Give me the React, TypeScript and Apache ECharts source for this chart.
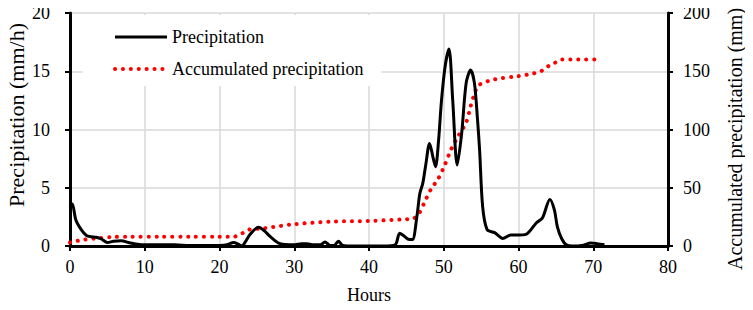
import React, { useEffect, useRef } from "react";
import * as echarts from "echarts";

const precipHours = [0, 0.3, 0.8, 1.5, 2.2, 2.8, 3.5, 4.2, 5, 5.8, 6.8, 8.1, 9, 10, 12, 14, 16, 18, 20, 21, 21.9, 22.5, 23, 23.5, 24.1, 25.2, 26, 26.8, 28.1, 29.9, 31, 31.7, 32.5, 33.5, 34.1, 34.8, 35.3, 35.9, 36.5, 38, 40, 42, 43.5, 44.1, 44.6, 45.2, 45.8, 46.4, 46.8, 47.2, 47.6, 48.1, 48.6, 48.9, 49.3, 49.7, 50.2, 50.7, 51.2, 51.8, 52.4, 53, 53.6, 54.1, 54.5, 54.8, 55.2, 55.8, 56.8, 57.9, 59, 60, 61, 62.4, 63.2, 64.2, 64.8, 65.2, 65.8, 66.4, 67.2, 68.5, 69.7, 70.5, 71.5];
const precipValues = [3.3, 3.6, 2.2, 1.4, 0.9, 0.8, 0.75, 0.6, 0.3, 0.4, 0.45, 0.25, 0.15, 0.1, 0.1, 0.1, 0.05, 0.05, 0.05, 0.1, 0.3, 0.15, 0.0, 0.4, 1.0, 1.6, 1.3, 0.8, 0.2, 0.1, 0.2, 0.2, 0.1, 0.1, 0.35, 0.05, 0.05, 0.4, 0.05, 0, 0, 0, 0.1, 1.1, 0.9, 0.6, 0.55, 2.5, 4.5, 5.4, 7, 8.8, 7.5, 6.8, 9, 12.5, 15.5, 16.9, 12.5, 6.95, 9.7, 14, 15.1, 14, 11, 8.2, 3.4, 1.4, 1.15, 0.65, 0.95, 0.95, 1.0, 2.0, 2.4, 4.0, 3.1, 1.65, 0.6, 0.1, 0, 0.05, 0.25, 0.2, 0.1];

const accumHours = [0, 1.5, 3.6, 5.7, 8, 12, 16, 20, 21.9, 22.8, 23.9, 25.7, 29.9, 35.2, 40, 45, 45.9, 46.7, 47.6, 48.4, 49.2, 50.1, 51, 52, 53, 53.6, 54.3, 54.8, 56.8, 59.9, 61.9, 63, 63.9, 64.8, 65.7, 68, 71];
const accumValues = [3, 5, 6.6, 7.7, 8, 8, 8, 8, 8, 10, 14, 15, 18.6, 21, 21.5, 23, 23.5, 28, 40, 50, 57, 69, 83, 95, 106, 120, 134, 138.6, 143, 145.7, 148, 150, 154, 157, 160, 160, 160];

const seriesNames = ["Precipitation", "Accumulated precipitation"];
const xAxisName = "Hours";
const leftAxisName = "Precipitation (mm/h)";
const rightAxisName = "Accumulated precipitation (mm)";

const FONT = "Liberation Serif, DejaVu Serif, serif";

export default function App() {
  const ref = useRef<HTMLDivElement>(null);
  useEffect(() => {
    if (!ref.current) return;
    const chart = echarts.init(ref.current, null, { renderer: "svg" });
    const precipData = precipHours.map((h, i) => [h, precipValues[i]]);
    const accumData = accumHours.map((h, i) => [h, accumValues[i]]);
    const axisLine = { show: true, lineStyle: { color: "#000", width: 3 } };
    const axisTick = { show: true, length: 5, lineStyle: { color: "#000", width: 2 } };
    const labelStyle = { color: "#000", fontFamily: FONT, fontSize: 18 };
    const blackLine = { color: "#000", width: 3 };
    const redDots = { color: "#ff0000", width: 4, type: [0.1, 7.8], cap: "round" };
    chart.setOption({
      animation: false,
      backgroundColor: "#fff",
      textStyle: { fontFamily: FONT },
      grid: { left: 70, right: 85, top: 13, bottom: 64, containLabel: false },
      legend: {
        show: true,
        orient: "vertical",
        left: 83,
        top: 15,
        padding: [13, 18, 8, 30],
        backgroundColor: "#fff",
        itemWidth: 52,
        itemHeight: 14,
        itemGap: 14,
        itemStyle: { opacity: 0 },
        textStyle: { color: "#000", fontFamily: FONT, fontSize: 18 },
        data: [
          { name: seriesNames[0], lineStyle: blackLine },
          { name: seriesNames[1], lineStyle: redDots },
        ],
      },
      graphic: [
        {
          type: "text",
          x: 16,
          y: 115,
          rotation: Math.PI / 2,
          style: {
            text: leftAxisName,
            fill: "#000",
            font: "22px " + FONT,
            textAlign: "center",
            textVerticalAlign: "middle",
          },
        },
        {
          type: "text",
          x: 735,
          y: 139,
          rotation: Math.PI / 2,
          style: {
            text: rightAxisName,
            fill: "#000",
            font: "20px " + FONT,
            textAlign: "center",
            textVerticalAlign: "middle",
          },
        },
      ],
      xAxis: {
        type: "value",
        min: 0,
        max: 80,
        interval: 10,
        name: xAxisName,
        nameLocation: "middle",
        nameGap: 40,
        nameTextStyle: labelStyle,
        axisLine,
        axisTick,
        axisLabel: { ...labelStyle, margin: 12 },
        splitLine: { show: true, lineStyle: { color: "#d9d9d9", width: 1.5 } },
      },
      yAxis: [
        {
          type: "value",
          min: 0,
          max: 20,
          interval: 5,
          axisLine,
          axisTick,
          axisLabel: { ...labelStyle, margin: 20 },
          splitLine: { show: true, lineStyle: { color: "#d9d9d9", width: 1.5 } },
        },
        {
          type: "value",
          min: 0,
          max: 200,
          interval: 50,
          position: "right",
          axisLine,
          axisTick,
          axisLabel: { ...labelStyle, margin: 15 },
          splitLine: { show: false },
        },
      ],
      series: [
        {
          name: seriesNames[0],
          type: "line",
          yAxisIndex: 0,
          data: precipData,
          smooth: 0.3,
          symbol: "none",
          lineStyle: blackLine,
          itemStyle: { color: "#000" },
          z: 3,
        },
        {
          name: seriesNames[1],
          type: "line",
          yAxisIndex: 1,
          data: accumData,
          smooth: 0.3,
          symbol: "none",
          lineStyle: redDots,
          itemStyle: { color: "#ff0000" },
          z: 2,
        },
      ],
    });
    return () => chart.dispose();
  }, []);
  return <div ref={ref} style={{ width: 753, height: 310, margin: -8 }} />;
}
